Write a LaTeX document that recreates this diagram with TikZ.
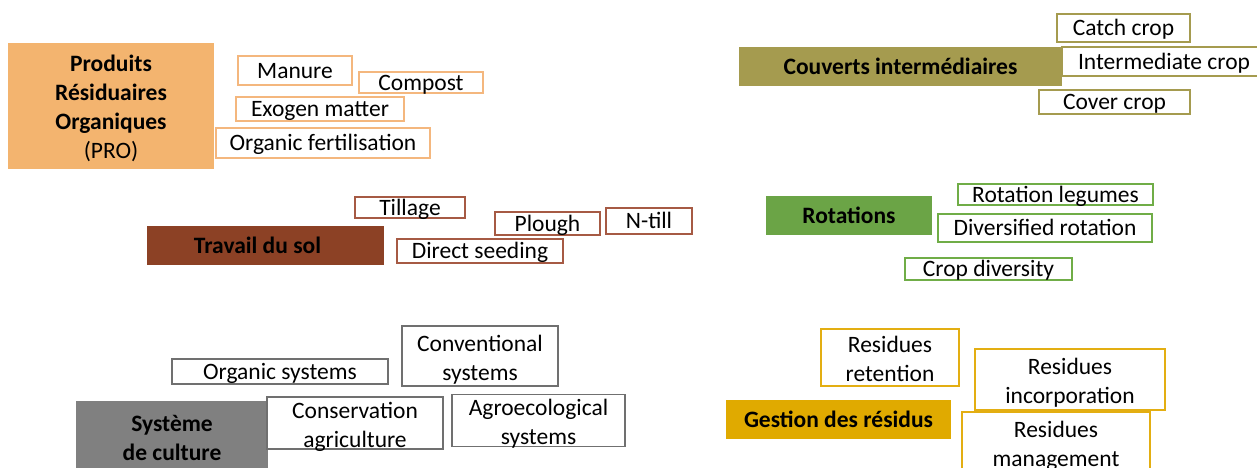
\documentclass[tikz,border=0pt]{standalone}
\usepackage{fontspec}
\setmainfont{Carlito}
\definecolor{proFill}{HTML}{F3B46F}
\definecolor{proLine}{HTML}{F4B77E}
\definecolor{solFill}{HTML}{8C4125}
\definecolor{solLine}{HTML}{A65A44}
\definecolor{sysFill}{HTML}{808080}
\definecolor{sysLine}{HTML}{707070}
\definecolor{covFill}{HTML}{A59B4F}
\definecolor{covLine}{HTML}{A59B4F}
\definecolor{rotFill}{HTML}{6BA446}
\definecolor{rotLine}{HTML}{70AD47}
\definecolor{resFill}{HTML}{E0AA00}
\definecolor{resLine}{HTML}{E3AE12}
\begin{document}
\begin{tikzpicture}[x=1pt,y=-1pt,
  every node/.style={font=\fontsize{23.5}{29}\selectfont, inner sep=0pt, align=center},
  head/.style={fill=#1, draw=none, font=\fontsize{23.5}{29}\selectfont\bfseries},
  ibox/.style={draw=#1, fill=white, line width=1.3pt},
  one/.style={text height=17pt, text depth=2pt},
  two/.style={text height=50pt, text depth=2pt},
  four/.style={text height=106pt, text depth=2pt}]
\useasboundingbox (0,0) rectangle (1257,467);
\clip (0,0) rectangle (1257,467);
\fill[white] (0,0) rectangle (1257,467);

% Produits Residuaires Organiques
\node[head=proFill, four, minimum width=206pt, minimum height=126pt] (pro) at (111,106)
  {Produits\\Résiduaires\\Organiques\\\mdseries(PRO)};
\node[ibox=proLine, one, minimum width=114pt, minimum height=29pt] (manure) at (295,70.5) {Manure};
\node[ibox=proLine, one, minimum width=124pt, minimum height=21pt] (compost) at (421,82.5) {Compost};
\node[ibox=proLine, one, minimum width=168pt, minimum height=24pt] (exogen) at (320,109) {Exogen matter};
\node[ibox=proLine, one, minimum width=214pt, minimum height=30pt] (orgfert) at (323,143) {Organic fertilisation};

% Travail du sol
\node[head=solFill, one, minimum width=237pt, minimum height=39pt] (travail) at (265.5,245.5) {\hspace*{-16pt}Travail du sol};
\node[ibox=solLine, one, minimum width=110pt, minimum height=21pt] (tillage) at (410,207.5) {Tillage};
\node[ibox=solLine, one, minimum width=105pt, minimum height=23pt] (plough) at (547.5,223.5) {Plough};
\node[ibox=solLine, one, minimum width=86pt, minimum height=26pt] (ntill) at (649,221) {N-till};
\node[ibox=solLine, one, minimum width=166pt, minimum height=24pt] (direct) at (480,251) {Direct seeding};

% Systeme de culture
\node[head=sysFill, two, minimum width=192pt, minimum height=70pt] (systeme) at (172,436) {Système\\de culture};
\node[ibox=sysLine, one, minimum width=216pt, minimum height=25pt] (orgsys) at (280,371.5) {Organic systems};
\node[ibox=sysLine, two, minimum width=156pt, minimum height=60pt] (conv) at (480,356) {Conventional\\systems};
\node[ibox=sysLine, two, minimum width=176pt, minimum height=48pt] (conserv) at (355,423) {Conservation\\agriculture};
\node[ibox=sysLine, two, minimum width=173pt, minimum height=51pt] (agro) at (538.5,420.5) {Agroecological\\systems};

% Couverts intermediaires
\node[head=covFill, one, minimum width=323pt, minimum height=39pt] (couverts) at (900.5,66.5) {Couverts intermédiaires};
\node[ibox=covLine, one, minimum width=133pt, minimum height=28pt] (catch) at (1123.5,28) {Catch crop};
\node[ibox=covLine, one, minimum width=204pt, minimum height=29pt] (inter) at (1164,61.5) {Intermediate crop};
\node[ibox=covLine, one, minimum width=151pt, minimum height=24pt] (cover) at (1114.5,102) {Cover crop};

% Rotations
\node[head=rotFill, one, minimum width=166pt, minimum height=39pt] (rotations) at (849,215.5) {Rotations};
\node[ibox=rotLine, one, minimum width=195pt, minimum height=21pt] (rotleg) at (1055.5,194.5) {Rotation legumes};
\node[ibox=rotLine, one, minimum width=214pt, minimum height=28pt] (divrot) at (1045,228) {Diversified rotation};
\node[ibox=rotLine, one, minimum width=167pt, minimum height=22pt] (cropdiv) at (988.5,269) {Crop diversity};

% Gestion des residus
\node[head=resFill, one, minimum width=225pt, minimum height=39pt] (gestion) at (838.5,419.5) {Gestion des résidus};
\node[ibox=resLine, two, minimum width=138pt, minimum height=57pt] (resret) at (890,357.5) {Residues\\retention};
\node[ibox=resLine, two, minimum width=190pt, minimum height=61pt] (resinc) at (1070,379.5) {Residues\\incorporation};
\node[ibox=resLine, two, minimum width=188pt, minimum height=60pt] (resman) at (1056,442) {Residues\\management};
\end{tikzpicture}
\end{document}
